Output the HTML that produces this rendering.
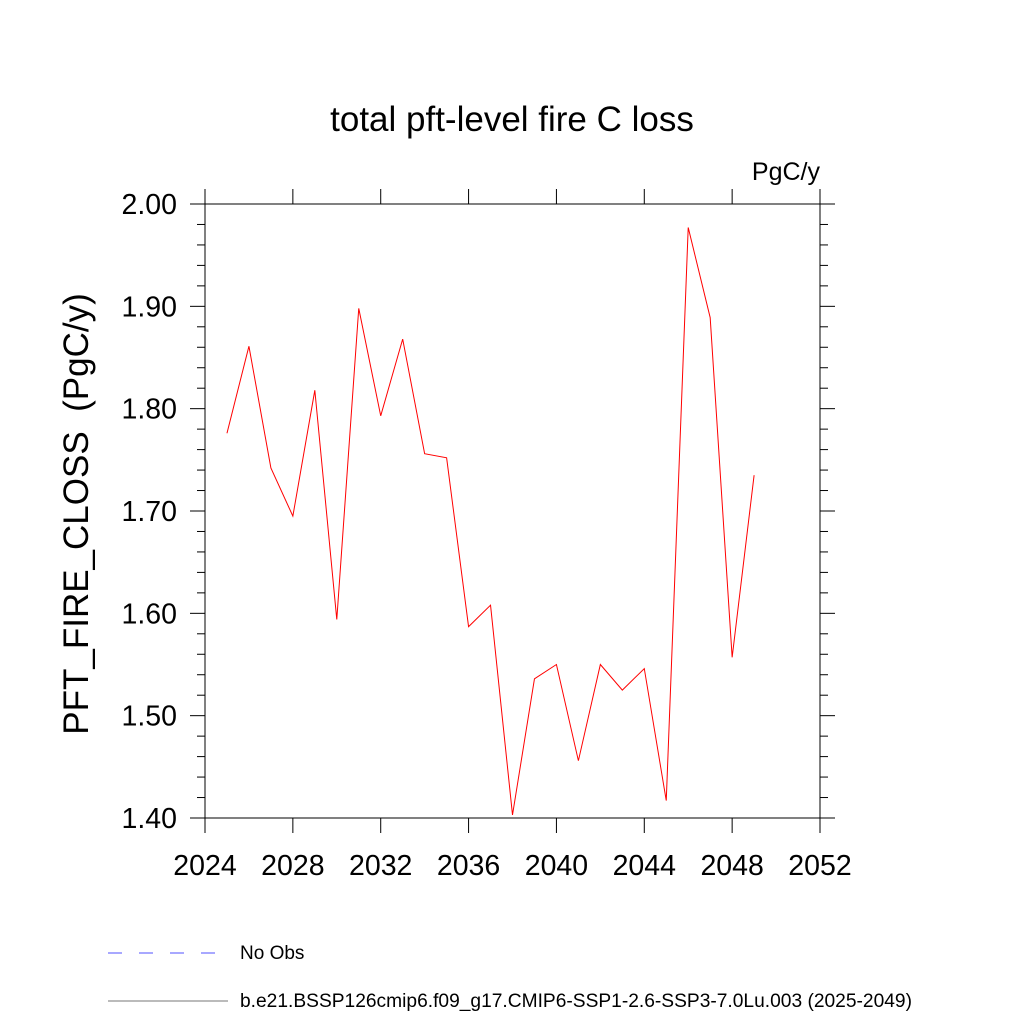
<!DOCTYPE html>
<html><head><meta charset="utf-8"><style>
body{margin:0;background:#fff;}
svg text{font-family:"Liberation Sans",sans-serif;}
</style></head><body>
<svg id="chart" width="1024" height="1024" viewBox="0 0 1024 1024" xmlns="http://www.w3.org/2000/svg">
<rect width="1024" height="1024" fill="#fff"/>
<text x="512" y="131" font-size="35" text-anchor="middle">total pft-level fire C loss</text>
<text x="820" y="180" font-size="25" text-anchor="end">PgC/y</text>
<text transform="translate(88,514) rotate(-90)" font-size="35" text-anchor="middle" xml:space="preserve" style="white-space:pre">PFT_FIRE_CLOSS  (PgC/y)</text>
<g id="axes"></g>
<g id="series"></g>
<g>
<line x1="108" y1="953" x2="218" y2="953" stroke="#5050ff" stroke-width="1" stroke-dasharray="14,17"/>
<text x="240" y="959" font-size="19">No Obs</text>
<line x1="108" y1="1001" x2="228" y2="1001" stroke="#777" stroke-width="1"/>
<text x="240" y="1007" font-size="19.2">b.e21.BSSP126cmip6.f09_g17.CMIP6-SSP1-2.6-SSP3-7.0Lu.003 (2025-2049)</text>
</g>
</svg>
<script>
const years=[2025,2026,2027,2028,2029,2030,2031,2032,2033,2034,2035,2036,2037,2038,2039,2040,2041,2042,2043,2044,2045,2046,2047,2048,2049];
const values=[1.776,1.861,1.742,1.695,1.818,1.594,1.898,1.793,1.868,1.756,1.752,1.587,1.608,1.403,1.536,1.550,1.456,1.550,1.525,1.546,1.417,1.977,1.889,1.557,1.735];
const xTicks=[2024,2028,2032,2036,2040,2044,2048,2052];
const yTicks=["1.40","1.50","1.60","1.70","1.80","1.90","2.00"];
const X0=205,X1=820,Y0=818,Y1=204;
const xs=v=>X0+(v-2024)/(2052-2024)*(X1-X0);
const ys=v=>Y0-(v-1.4)/(2.0-1.4)*(Y0-Y1);
const NS="http://www.w3.org/2000/svg";
const ax=document.getElementById('axes');
function mk(t,a,p){const e=document.createElementNS(NS,t);for(const k in a)e.setAttribute(k,a[k]);p.appendChild(e);return e;}
const frame=mk('rect',{x:X0,y:Y1,width:X1-X0,height:Y0-Y1,fill:'none',stroke:'#000','stroke-width':1},ax);


xTicks.forEach(t=>{const x=xs(t);
 const l1=mk('line',{x1:x,y1:Y0,x2:x,y2:Y0+15,stroke:'#000'},ax);
 
 
 const l2=mk('line',{x1:x,y1:Y1,x2:x,y2:Y1-15,stroke:'#000'},ax);
 
 
 const tx=mk('text',{x:x,y:Y0+57,'font-size':28.5,'text-anchor':'middle'},ax);tx.textContent=t;
 
 
});
for(let i=0;i<=30;i++){const v=1.4+i*0.02;const y=ys(v);const major=i%5===0;const len=major?15:8;
 const a=mk('line',{x1:X0,y1:y,x2:X0-len,y2:y,stroke:'#000'},ax);
 
 
 const b=mk('line',{x1:X1,y1:y,x2:X1+len,y2:y,stroke:'#000'},ax);
 
 
}
yTicks.forEach(t=>{const tx=mk('text',{x:X0-28,y:ys(parseFloat(t))+10,'font-size':28.5,'text-anchor':'end'},ax);tx.textContent=t;
 
 
});
const pts=years.map((y,i)=>xs(y)+','+ys(values[i])).join(' ');
const pl=mk('polyline',{points:pts,fill:'none',stroke:'#ff0000','stroke-width':1},document.getElementById('series'));


</script>
</body></html>
